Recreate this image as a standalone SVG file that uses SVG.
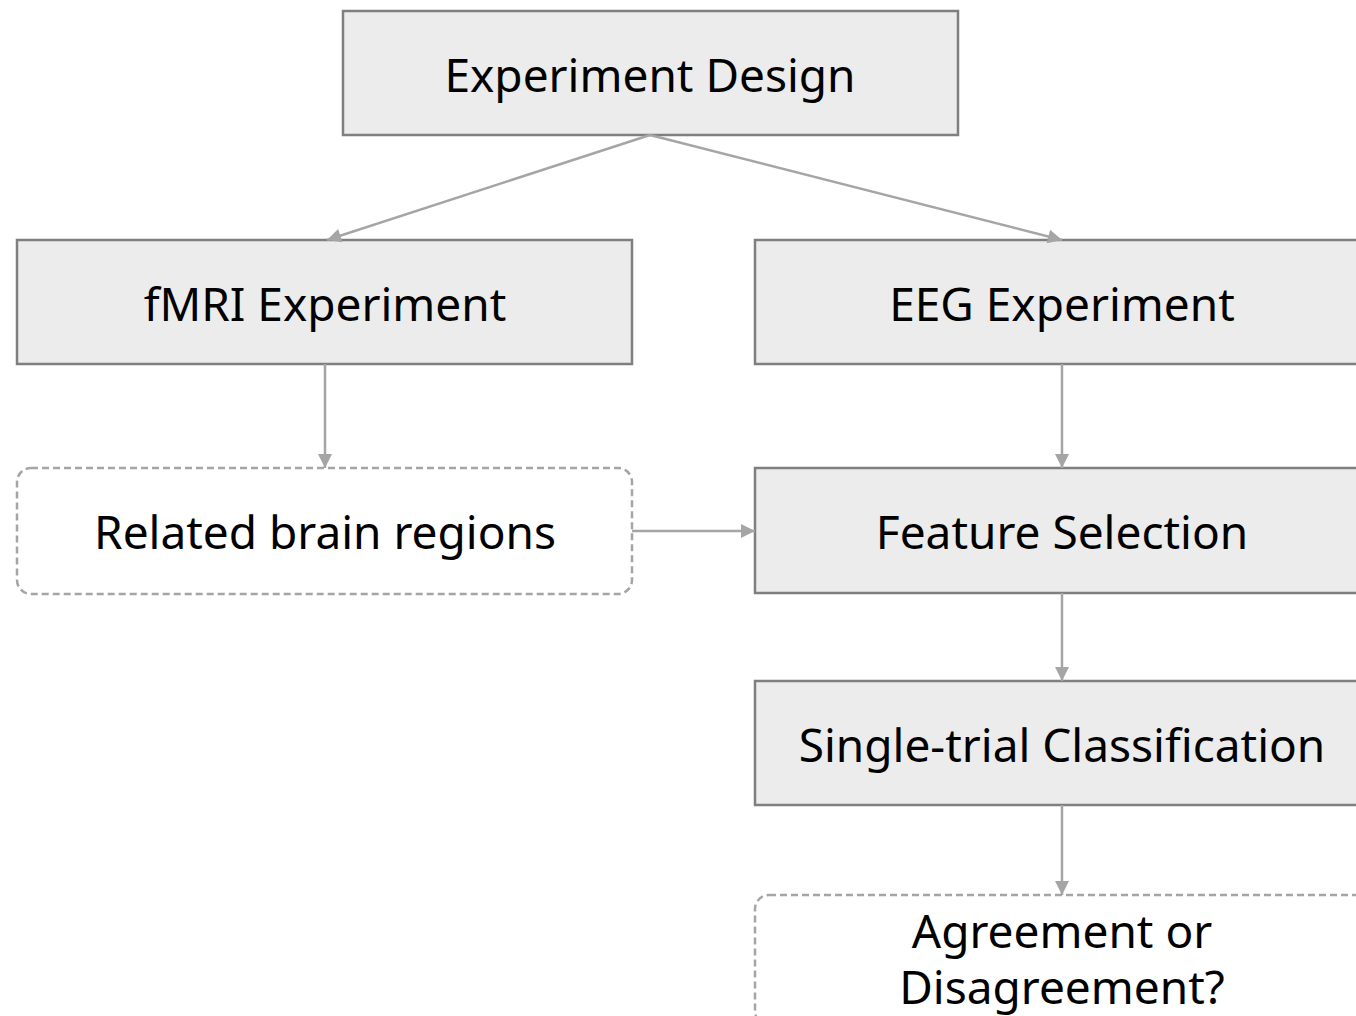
<svg xmlns="http://www.w3.org/2000/svg" width="1356" height="1016" viewBox="0 0 1356 1016">
<style>
.box{fill:#ececec;stroke:#7f7f7f;stroke-width:2.5}
.dash{fill:#ffffff;stroke:#a5a5a5;stroke-width:2.5;stroke-dasharray:7,4}
.lbl{font-family:"Noto Sans","Open Sans","Liberation Sans",sans-serif;font-size:46px;fill:#000;text-anchor:middle}
.conn{stroke:#a5a5a5;stroke-width:2.5;fill:none;marker-end:url(#ah)}
</style>
<defs>
<marker id="ah" viewBox="0 0 12 12" refX="12" refY="6" markerWidth="16" markerHeight="14" markerUnits="userSpaceOnUse" orient="auto">
<path d="M0,0 L12,6 L0,12 z" fill="#a5a5a5"/>
</marker>
</defs>
<g id="n-design"><rect class="box" x="343" y="11" width="615" height="124"/><text class="lbl" x="650" y="92">Experiment Design</text></g>
<g id="n-fmri"><rect class="box" x="17" y="240" width="615" height="124"/><text class="lbl" x="325" y="321">fMRI Experiment</text></g>
<g id="n-eeg"><rect class="box" x="755" y="240" width="615" height="124"/><text class="lbl" x="1062" y="321">EEG Experiment</text></g>
<g id="n-regions"><rect class="dash" x="17" y="468" width="615" height="126" rx="14"/><text class="lbl" x="325" y="549">Related brain regions</text></g>
<g id="n-feature"><rect class="box" x="755" y="468" width="615" height="125"/><text class="lbl" x="1062" y="549">Feature Selection</text></g>
<g id="n-single"><rect class="box" x="755" y="681" width="615" height="124"/><text class="lbl" x="1062" y="762">Single-trial Classification</text></g>
<g id="n-agree"><rect class="dash" x="755" y="895" width="615" height="130" rx="14"/><text class="lbl" x="1062" y="948">Agreement or</text><text class="lbl" x="1062" y="1004">Disagreement?</text></g>
<g id="connectors">
<line class="conn" x1="650" y1="135" x2="327" y2="240"/>
<line class="conn" x1="650" y1="135" x2="1062" y2="240"/>
<line class="conn" x1="325" y1="364" x2="325" y2="468"/>
<line class="conn" x1="1062" y1="364" x2="1062" y2="468"/>
<line class="conn" x1="632" y1="531" x2="755" y2="531"/>
<line class="conn" x1="1062" y1="593" x2="1062" y2="681"/>
<line class="conn" x1="1062" y1="805" x2="1062" y2="895"/>
</g>
</svg>
